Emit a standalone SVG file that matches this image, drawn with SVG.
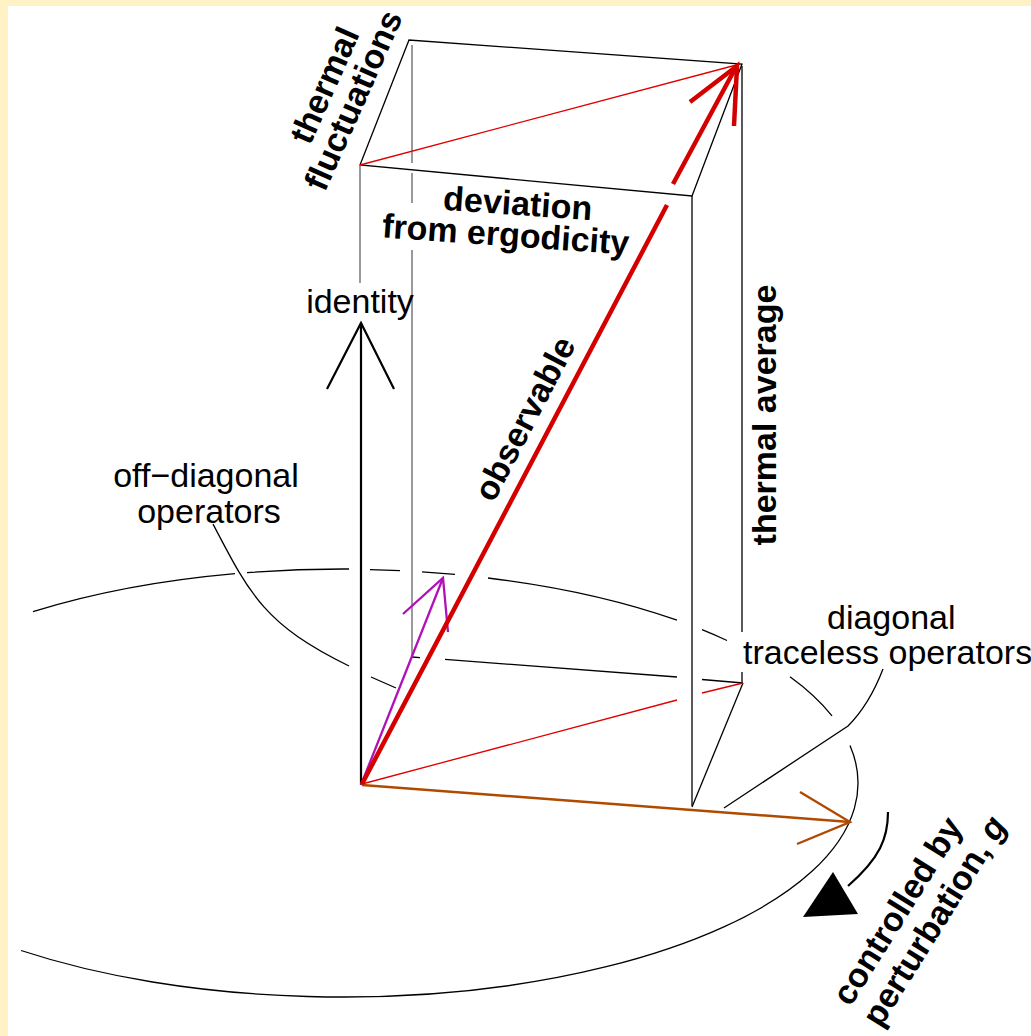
<svg xmlns="http://www.w3.org/2000/svg" width="1031" height="1036" viewBox="0 0 1031 1036">
<style>
.thin{stroke:#000;stroke-width:1.3;fill:none}
.gray{stroke:#7a7a7a;stroke-width:1.5;fill:none}
.rthin{stroke:#e00000;stroke-width:1.3;fill:none}
.lbl{font-family:"Liberation Sans",Arial,Helvetica,sans-serif;font-size:34px;fill:#000}
.b{font-weight:bold}
.ar{fill:none;stroke-linecap:butt;stroke-linejoin:miter}
</style>
<rect x="0" y="0" width="1031" height="1036" fill="#fff3c6"/>
<rect x="8" y="6" width="1023" height="1030" fill="#fff"/>

<g id="ellipse" class="thin">
<path d="M33,611.6 A516,214 0 0 1 235,573.6"/>
<path d="M247,572.7 A516,214 0 0 1 349,569"/>
<path d="M370,569.6 A516,214 0 0 1 400,570.6"/>
<path d="M422,571.8 A516,214 0 0 1 455,574.4"/>
<path d="M488,578 A516,214 0 0 1 677,620.2"/>
<path d="M702,629.7 A516,214 0 0 1 727,640.5"/>
<path d="M790,676.8 A516,214 0 0 1 832,715.9"/>
<path d="M850,745.4 A516,214 0 0 1 21,950.5"/>
</g>

<g id="box">
<g class="thin">
<path d="M360,165 L409,40 L742,64 L692,196 Z"/>
<path d="M692,196 V806"/>
<path d="M742,66 V632 M742,672 V683"/>
<path d="M692,807 L743,683"/>
<path d="M412,657 L420,657.6 M445,659.4 L677,677 M702,679.5 L743,683"/>
</g>
<path class="gray" d="M360,165 V283"/>
<path class="gray" d="M412,45 V163 M412,173 V203 M412,250 V657"/>
<path class="rthin" d="M360,165 L740,64"/>
<path class="rthin" d="M362,784 L677,700 M702,693 L743,683"/>
</g>

<g id="connectors">
<g id="identity-arrow" class="ar" stroke="#000" stroke-width="2.2">
<path d="M361,785 V323"/>
<path d="M327,389 L361,323 L394,389"/>
</g>
<g id="purple-arrow" class="ar" stroke="#b010b8" stroke-width="2.3">
<path d="M361,785 L443,578"/>
<path d="M403,614 L443,578 L448,632"/>
</g>
<g id="brown-arrow" class="ar" stroke="#b04a00" stroke-width="2.4">
<path d="M362,785 L850,822"/>
<path d="M800,792 L850,822 L797,844"/>
</g>
<g id="observable-arrow" class="ar" stroke="#d40000" stroke-width="4.5">
<path d="M362,784 L667,205 M673,184 L736,67"/>
<path d="M690,102 L737,66 L734,126"/>
</g>
<g id="leaders" class="thin">
<path d="M213,524 C250,595 265,625 349,666 M371,677 L396,688"/>
<path d="M883,669 C873,695 862,712 848,726 L724,808"/>
</g>
<g id="perturbation-arrow">
<path d="M888,812 C888,838 880,858 848,886" fill="none" stroke="#000" stroke-width="2.2"/>
<polygon points="833,872 858,914 803,917" fill="#000"/>
</g>
</g>

<g id="labels">
<g id="identity"><text class="lbl" x="360" y="313" text-anchor="middle">identity</text></g>
<g id="off-diagonal"><text class="lbl" text-anchor="middle"><tspan x="206" y="487">off−diagonal</tspan><tspan x="209" y="523">operators</tspan></text></g>
<g id="diagonal"><text class="lbl"><tspan x="827" y="629">diagonal</tspan><tspan x="743" y="664">traceless operators</tspan></text></g>
<g id="deviation">
<text class="lbl b" text-anchor="middle" transform="translate(517,215) rotate(4)">deviation</text>
<text class="lbl b" text-anchor="middle" transform="translate(505,246) rotate(4)">from ergodicity</text>
</g>
<g id="thermal-average"><text class="lbl b" text-anchor="middle" transform="translate(776,415) rotate(-90)">thermal average</text></g>
<g id="observable"><text class="lbl b" text-anchor="middle" transform="translate(535,424) rotate(-62.4)">observable</text></g>
<g id="thermal-fluctuations">
<text class="lbl b" text-anchor="middle" transform="translate(335,90) rotate(-66)">thermal</text>
<text class="lbl b" text-anchor="middle" transform="translate(364,105) rotate(-66)">fluctuations</text>
</g>
<g id="controlled">
<text class="lbl b" text-anchor="middle" transform="translate(907,917) rotate(-58)">controlled by</text>
<text class="lbl b" text-anchor="middle" transform="translate(944,927) rotate(-58)">perturbation, <tspan font-style="italic">g</tspan></text>
</g>
</g>
</svg>
